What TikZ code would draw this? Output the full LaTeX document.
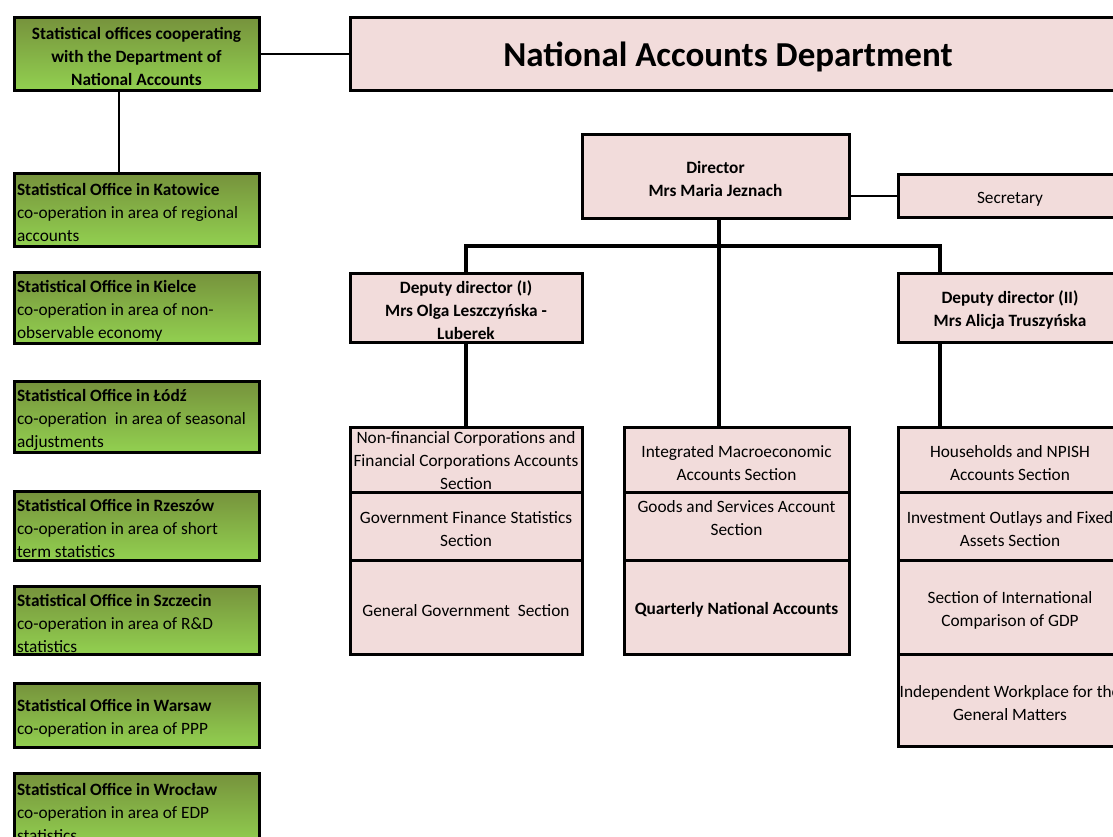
\documentclass[tikz,border=0pt]{standalone}
\usepackage{fontspec}
\setmainfont{Carlito}
\usetikzlibrary{positioning}
\definecolor{deptpink}{RGB}{242,220,219}
\definecolor{officetop}{RGB}{118,146,60}
\definecolor{officebottom}{RGB}{146,208,80}
\newcommand{\orgfont}{\fontsize{17.3}{23}\selectfont}
\newcommand{\titlefont}{\fontsize{35}{42}\selectfont}

\begin{document}
\begin{tikzpicture}[
    x=1pt,y=-1pt,
    officebox/.style={
        draw,
        line width=3pt,
        top color=officetop,
        bottom color=officebottom,
        minimum width=245pt,
        text width=239pt,
        inner xsep=3pt,
        inner ysep=0pt,
        align=flush left,
        font=\orgfont,
        execute at begin node={\rule{0pt}{18.5pt}}
    },
    deptplain/.style={
        draw,
        line width=3pt,
        fill=deptpink,
        align=flush center,
        inner xsep=2pt,
        inner ysep=0pt,
        font=\orgfont
    },
    deptbox/.style={deptplain, execute at begin node={\rule{0pt}{18.5pt}}},
    leftcol/.style={deptbox, minimum width=232pt, text width=228pt},
    midcol/.style={deptbox, minimum width=225pt, text width=221pt},
    rightcol/.style={deptbox, minimum width=224pt, text width=220pt},
    thinline/.style={line width=2pt},
    thickline/.style={line width=4pt}
]
\useasboundingbox (0,0) rectangle (1113,836);
\clip (0,0) rectangle (1113,836);

% heading boxes
\node[officebox, align=flush center, font=\orgfont\bfseries, minimum height=73pt] (offices) at (136.5,53.5)
    {Statistical offices cooperating\\with the Department of\\National Accounts};
\node[deptplain, font=\titlefont\bfseries, minimum width=772pt, text width=768pt, minimum height=73pt,
      execute at begin node={\rule{0pt}{32pt}}] (nad) at (736,53.5)
    {\hspace*{-16pt}National Accounts Department};

% statistical offices
\node[officebox, minimum height=73pt] (katowice) at (136.5,209.5)
    {\textbf{Statistical Office in Katowice}\\co-operation in area of regional\\accounts};
\node[officebox, minimum height=71pt] (kielce) at (136.5,307.5)
    {\textbf{Statistical Office in Kielce}\\co-operation in area of non-\\observable economy};
\node[officebox, minimum height=71pt] (lodz) at (136.5,416.5)
    {\textbf{Statistical Office in Łódź}\\co-operation\ \ in area of seasonal\\adjustments};
\node[officebox, minimum height=69pt] (rzeszow) at (136.5,525.5)
    {\textbf{Statistical Office in Rzeszów}\\co-operation in area of short\\term statistics};
\node[officebox, minimum height=68pt] (szczecin) at (136.5,620)
    {\textbf{Statistical Office in Szczecin}\\co-operation in area of R\&D\\statistics};
\node[officebox, minimum height=64pt] (warsaw) at (136.5,715)
    {\textbf{Statistical Office in Warsaw}\\co-operation in area of PPP};
\node[officebox, minimum height=73pt] (wroclaw) at (136.5,809.5)
    {\textbf{Statistical Office in Wrocław}\\co-operation in area of EDP\\statistics};

% management
\node[deptbox, font=\orgfont\bfseries, minimum width=267pt, text width=263pt, minimum height=84pt] (director) at (715.5,176)
    {Director\\Mrs Maria Jeznach};
\node[rightcol, minimum height=43pt] (secretary) at (1010,195.5) {Secretary};
\node[leftcol, font=\orgfont\bfseries, minimum height=69pt] (deputy1) at (466,307.5)
    {Deputy director (I)\\Mrs Olga Leszczyńska -\\Luberek};
\node[rightcol, font=\orgfont\bfseries, minimum height=69pt] (deputy2) at (1010,307.5)
    {Deputy director (II)\\Mrs Alicja Truszyńska};

% sections under deputy director (I)
\node[deptplain, minimum width=232pt, text width=228pt, minimum height=65pt,
      execute at begin node={\rule{0pt}{15pt}}] (nfc) at (466,459.5)
    {Non-financial Corporations and\\Financial Corporations Accounts\\Section};
\node[leftcol, minimum height=68pt] (gfs) at (466,526) {Government Finance Statistics\\Section};
\node[leftcol, minimum height=94pt] (ggs) at (466,607) {General Government\ \ Section};

% sections under director
\node[midcol, minimum height=65pt] (ima) at (736.5,459.5) {Integrated Macroeconomic\\Accounts Section};
\node[midcol, minimum height=68pt] (gsa) at (736.5,526) {Goods and Services Account\\Section\\\mbox{}};
\node[midcol, font=\orgfont\bfseries, minimum height=94pt] (qna) at (736.5,607) {Quarterly National Accounts};

% sections under deputy director (II)
\node[rightcol, minimum height=65pt] (households) at (1010,459.5) {Households and NPISH\\Accounts Section};
\node[rightcol, minimum height=68pt] (investment) at (1010,526) {Investment Outlays and Fixed\\Assets Section};
\node[rightcol, minimum height=94pt] (gdp) at (1010,607) {Section of International\\Comparison of GDP};
\node[rightcol, minimum height=92pt] (workplace) at (1010,700)
    {\makebox[200pt]{Independent Workplace for the}\\General Matters};

% connectors
\coordinate (bus) at (719,246);
\coordinate (busright) at (940,246);
\draw[thinline] (offices.east) -- (offices.east -| nad.west);
\draw[thinline] ([xshift=-17.5pt]offices.south) -- ([xshift=-17.5pt]offices.south |- katowice.north);
\draw[thinline] (director.east |- secretary.west) -- (secretary.west);
\draw[thickline] (director.south -| bus) -- (ima.north -| bus);
\draw[thickline] (deputy1.north) |- (bus) -- (busright) -- (busright |- deputy2.north);
\draw[thickline] (deputy1.south) -- (nfc.north);
\draw[thickline] (busright |- deputy2.south) -- (busright |- households.north);

\end{tikzpicture}
\end{document}
